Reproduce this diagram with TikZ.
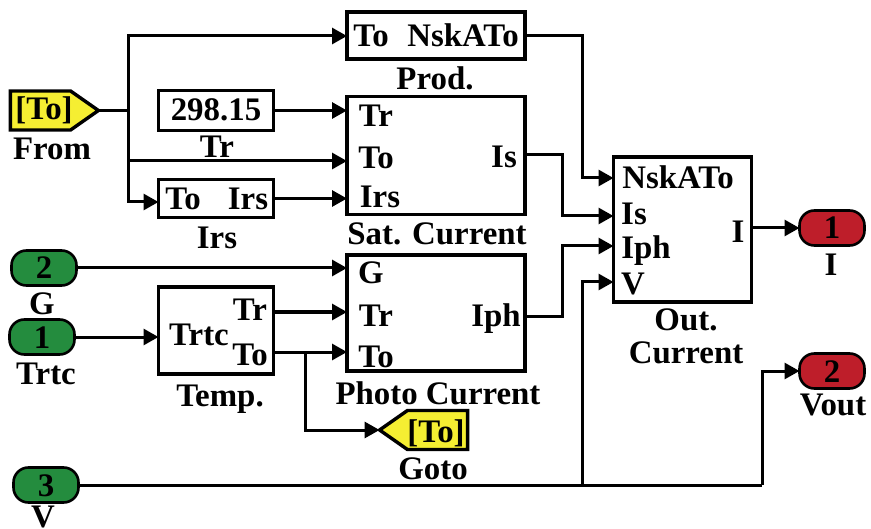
\documentclass[tikz,border=0pt]{standalone}
\usepackage{fontspec}
\setmainfont{Liberation Serif}
\usetikzlibrary{arrows.meta,shapes.symbols}
\definecolor{portgreen}{RGB}{36,140,62}
\definecolor{portred}{RGB}{190,30,42}
\definecolor{tagyellow}{RGB}{245,238,50}
\tikzset{
    >={Triangle[length=15bp,width=16bp]},
    wire/.style={line width=3bp,->},
    plainwire/.style={line width=3bp},
    block/.style={draw,line width=3.6bp,fill=white,inner sep=0pt,outer sep=0pt},
    inport/.style={draw,line width=2.6bp,fill=portgreen,rounded corners=15bp,minimum width=65bp,minimum height=35bp,inner sep=0pt,outer sep=0pt},
    outport/.style={inport,fill=portred},
    tagbox/.style={shape=signal,draw,line width=3.4bp,fill=tagyellow,inner sep=0pt,outer sep=0pt,minimum width=88bp,minimum height=39bp,signal pointer angle=70},
    lbl/.style={font=\fontsize{33}{33}\selectfont\bfseries,inner sep=0pt,outer sep=0pt,text height=22bp,text depth=0pt}
}
\begin{document}
\begin{tikzpicture}[x=1bp,y=-1bp]
    \useasboundingbox (0,0) rectangle (871,529);
    % blocks
    \node[block,minimum width=178bp,minimum height=47bp] (prod) at (436,35.5) {};
    \node[block,minimum width=115bp,minimum height=40bp] (trbox) at (216,110.5) {};
    \node[block,minimum width=115bp,minimum height=38bp] (irsbox) at (216,198.5) {};
    \node[block,minimum width=178bp,minimum height=118bp] (sat) at (436,155.5) {};
    \node[block,minimum width=178bp,minimum height=116bp] (photo) at (436,313) {};
    \node[block,minimum width=115bp,minimum height=87bp] (temp) at (216,330.5) {};
    \node[block,minimum width=138bp,minimum height=145bp] (out) at (682.5,229.5) {};
    % ports
    \node[inport] (g) at (44,268) {};
    \node[inport] (trtc) at (42,337) {};
    \node[inport] (v) at (46,485) {};
    \node[outport] (i) at (832,228) {};
    \node[outport] (vout) at (832,371) {};
    % tags
    \node[tagbox,signal to=east,signal from=nowhere] (from) at (40.5,110.5) {};
    \node[tagbox,signal to=west,signal from=nowhere] (goto) at (437.5,430) {};
    % junctions
    \coordinate (jtop) at (128,36);
    \coordinate (jfrom) at (128,110.5);
    \coordinate (jto) at (128,161);
    \coordinate (jirs) at (128,202);
    \coordinate (jgoto) at (305,352);
    \coordinate (jv) at (582,485);
    \coordinate (kv) at (762,485);
    % wires
    \draw[plainwire] (from.east) -- (jfrom);
    \draw[wire,<->] (prod.west |- jtop) -- (jtop) -- (jirs) -- (irsbox.west |- jirs);
    \draw[wire] (jto) -- (sat.west |- jto);
    \draw[wire] (trbox.east) -- (sat.west |- trbox);
    \draw[wire] (irsbox.east) -- (sat.west |- irsbox);
    \draw[wire] (g.east) -- (photo.west |- g);
    \draw[wire] (trtc.east) -- (temp.west |- trtc);
    \draw[wire] (temp.east |- 0,312) -- (photo.west |- 0,312);
    \draw[wire] (temp.east |- jgoto) -- (photo.west |- jgoto);
    \draw[wire] (jgoto) |- (goto.west);
    \draw[wire] (prod.east |- jtop) -- (582,36) |- (out.west |- 0,178);
    \draw[wire] (sat.east |- 0,155) -- (562,155) |- (out.west |- 0,216);
    \draw[wire] (photo.east |- 0,316) -- (562,316) |- (out.west |- 0,246);
    \draw[plainwire] (v.east) -- (kv);
    \draw[wire] (kv) |- (vout.west);
    \draw[wire] (jv) |- (out.west |- 0,282);
    \draw[wire] (out.east |- i) -- (i.west);
    % texts
    \node[lbl] (tg) at (44,268) {2};
    \node[lbl] (ttrtc) at (42,337) {1};
    \node[lbl] (tv) at (46,485) {3};
    \node[lbl] (ti) at (832,228) {1};
    \node[lbl] (tvout) at (832,371) {2};
    \node[lbl] (tfrom) at (44,109) {[To]};
    \node[lbl] (tgoto) at (436,431) {[To]};
    \node[lbl] (lfrom) at (52,149) {From};
    \node[lbl] (lg) at (42,303) {G};
    \node[lbl] (ltrtc) at (46,373) {Trtc};
    \node[lbl] (lv) at (43,516) {V};
    \node[lbl] (li) at (831,265) {I};
    \node[lbl] (lvout) at (833,404) {Vout};
    \node[lbl] (vtr) at (216,110) {298.15};
    \node[lbl] (ltr) at (217,147) {Tr};
    \node[lbl] (lirs) at (217,238) {Irs};
    \node[lbl] (ltemp) at (220,395) {Temp.};
    \node[lbl] (lprod) at (435,79) {Prod.};
    \node[lbl] (lsat) at (437,234) {Sat. Current};
    \node[lbl] (lphoto) at (438,393) {Photo Current};
    \node[lbl] (lgoto) at (433,468) {Goto};
    \node[lbl] (lout) at (686,319) {Out.};
    \node[lbl] (lcur) at (686,352) {Current};
    \node[lbl] (pto) at (371,36) {To};
    \node[lbl] (pnsk) at (463,36) {NskATo};
    \node[lbl] (ito) at (183,198.5) {To};
    \node[lbl] (iirs) at (248,198.5) {Irs};
    \node[lbl] (str) at (376,116) {Tr};
    \node[lbl] (sto) at (376,158) {To};
    \node[lbl] (sirs) at (380,197) {Irs};
    \node[lbl] (sis) at (504,157) {Is};
    \node[lbl] (pg) at (371,273) {G};
    \node[lbl] (ptr) at (376,315) {Tr};
    \node[lbl] (pht) at (376,356) {To};
    \node[lbl] (piph) at (496,315) {Iph};
    \node[lbl] (ttc) at (199,334) {Trtc};
    \node[lbl] (ttr) at (250,309) {Tr};
    \node[lbl] (tto) at (250,354) {To};
    \node[lbl] (onsk) at (678,178) {NskATo};
    \node[lbl] (ois) at (634,214) {Is};
    \node[lbl] (oiph) at (646,248) {Iph};
    \node[lbl] (ov) at (633,284) {V};
    \node[lbl] (oi) at (738,232) {I};
\end{tikzpicture}
\end{document}
